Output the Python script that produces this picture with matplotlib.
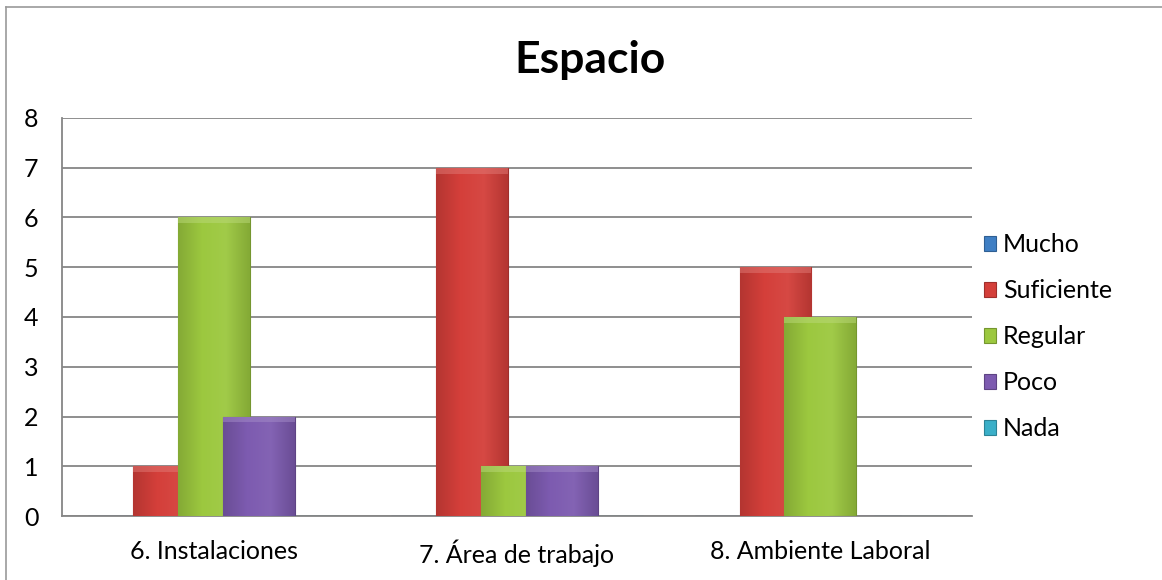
import numpy as np
import matplotlib.pyplot as plt
import matplotlib.colors as mcolors
from matplotlib.patches import Rectangle

categories = ['6. Instalaciones', '7. Área de trabajo', '8. Ambiente Laboral']
series = ['Mucho', 'Suficiente', 'Regular', 'Poco', 'Nada']
mucho = [0, 0, 0]
suficiente = [1, 7, 5]
regular = [6, 1, 4]
poco = [2, 1, 0]
nada = [0, 0, 0]
values = [mucho, suficiente, regular, poco, nada]
colors = ['#3F7FC4', '#D43F3A', '#9CC83F', '#7D5BB0', '#3AAFC8']

plt.rcParams['font.family'] = ['Lato', 'DejaVu Sans']

fig = plt.figure(figsize=(11.62, 5.8), dpi=100)
ax = fig.add_axes([0.0534, 0.1103, 0.7831, 0.6863])

x = np.arange(len(categories))
step = 0.148
width = 0.237


def shade(c, f):
    r, g, b = mcolors.to_rgb(c)
    if f >= 0:
        return (r + (1 - r) * f, g + (1 - g) * f, b + (1 - b) * f)
    return (r * (1 + f), g * (1 + f), b * (1 + f))


for i, (name, vals) in enumerate(zip(series, values)):
    pos = x + (i - 2) * step
    bars = ax.bar(pos, vals, width, color=colors[i], edgecolor=shade(colors[i], -0.25),
                  linewidth=0.8, zorder=3 + i, label=name)
    # soft horizontal gradient to mimic the bevelled look
    cmap = mcolors.LinearSegmentedColormap.from_list(
        name, [shade(colors[i], -0.15), colors[i], shade(colors[i], 0.05), shade(colors[i], -0.15)])
    grad = np.linspace(0, 1, 64).reshape(1, -1)
    for b in bars:
        h = b.get_height()
        if h <= 0:
            continue
        x0 = b.get_x()
        im = ax.imshow(grad, cmap=cmap, extent=[x0, x0 + width, 0, h], aspect='auto',
                       zorder=3 + i, interpolation='bilinear')
        im.set_clip_path(b)
        top = Rectangle((x0, h - 0.12), width, 0.12, color=shade(colors[i], 0.3),
                        zorder=3 + i, linewidth=0, alpha=0.5)
        ax.add_patch(top)

ax.set_xlim(-0.5, 2.5)
ax.set_ylim(0, 8)
ax.set_yticks(range(0, 9))
ax.set_xticks(x)
ax.set_xticklabels(categories)
ax.tick_params(axis='both', length=0, labelsize=18, colors='black')
ax.tick_params(axis='x', pad=17)
ax.tick_params(axis='y', pad=17)
ax.grid(axis='y', color='#868686', linewidth=1.3, zorder=1)
ax.set_axisbelow(True)
for s in ['top', 'right']:
    ax.spines[s].set_visible(False)
for s in ['left', 'bottom']:
    ax.spines[s].set_color('#868686')
    ax.spines[s].set_linewidth(1.3)

fig.text(0.508, 0.897, 'Espacio', ha='center', va='center', fontsize=32, fontweight='bold')

leg = fig.legend(loc='center left', bbox_to_anchor=(0.836, 0.419), frameon=False,
                 fontsize=18, handlelength=0.5, handleheight=0.5, handletextpad=0.25,
                 labelspacing=0.92, borderpad=0)

# chart border (left and top edges visible)
fig.add_artist(plt.Line2D([0.005, 0.005], [0.0, 0.988], color='#9a9a9a', linewidth=1.2))
fig.add_artist(plt.Line2D([0.005, 1.0], [0.988, 0.988], color='#9a9a9a', linewidth=1.2))

fig.savefig('out.png', dpi=100)
